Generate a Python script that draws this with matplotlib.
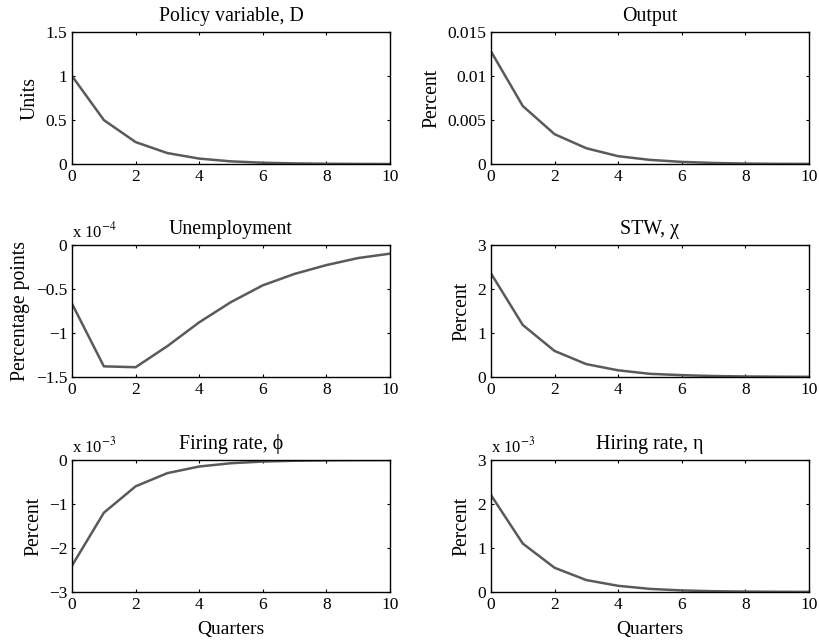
import matplotlib
matplotlib.use('Agg')
import matplotlib.pyplot as plt

plt.rcParams['font.family'] = ['Liberation Serif', 'DejaVu Serif']
plt.rcParams['mathtext.fontset'] = 'stix'
plt.rcParams['axes.unicode_minus'] = True

quarters = [0, 1, 2, 3, 4, 5, 6, 7, 8, 9, 10]

policy_d = [1.0, 0.5, 0.25, 0.125, 0.0625, 0.031, 0.0156, 0.0078, 0.0039, 0.002, 0.001]
output = [0.0128, 0.0066, 0.0034, 0.0018, 0.0009, 0.00048, 0.00025, 0.00013, 0.00006, 0.00003, 0.00002]
unemployment = [-0.67, -1.38, -1.39, -1.15, -0.88, -0.65, -0.46, -0.33, -0.23, -0.15, -0.10]  # x 1e-4
stw = [2.35, 1.18, 0.59, 0.29, 0.15, 0.07, 0.04, 0.02, 0.01, 0.005, 0.002]
firing = [-2.4, -1.2, -0.6, -0.3, -0.15, -0.075, -0.037, -0.019, -0.009, -0.005, -0.002]  # x 1e-3
hiring = [2.2, 1.1, 0.55, 0.27, 0.14, 0.07, 0.035, 0.017, 0.009, 0.004, 0.002]  # x 1e-3

panels = [
    ('Policy variable, D', 'Units', policy_d, (0, 1.5), [0, 0.5, 1, 1.5], ['0', '0.5', '1', '1.5'], None),
    ('Output', 'Percent', output, (0, 0.015), [0, 0.005, 0.01, 0.015], ['0', '0.005', '0.01', '0.015'], None),
    ('Unemployment', 'Percentage points', unemployment, (-1.5, 0), [-1.5, -1, -0.5, 0],
     ['\u22121.5', '\u22121', '\u22120.5', '0'], '-4'),
    ('STW, \u03c7', 'Percent', stw, (0, 3), [0, 1, 2, 3], ['0', '1', '2', '3'], None),
    ('Firing rate, \u03d5', 'Percent', firing, (-3, 0), [-3, -2, -1, 0], ['\u22123', '\u22122', '\u22121', '0'], '-3'),
    ('Hiring rate, \u03b7', 'Percent', hiring, (0, 3), [0, 1, 2, 3], ['0', '1', '2', '3'], '-3'),
]

fig = plt.figure(figsize=(8.19, 6.41), dpi=100)
lefts = [0.088, 0.5995]
bottoms = [0.744, 0.412, 0.0765]
w, h = 0.388, 0.206

for i, (title, ylab, vals, ylim, yt, ytl, expo) in enumerate(panels):
    r, c = divmod(i, 2)
    ax = fig.add_axes([lefts[c], bottoms[r], w, h])
    ax.plot(quarters, vals, color='#5a5a5a', lw=1.8)
    ax.set_xlim(0, 10)
    ax.set_ylim(*ylim)
    ax.set_xticks([0, 2, 4, 6, 8, 10])
    ax.set_yticks(yt)
    ax.set_yticklabels(ytl)
    ax.tick_params(direction='in', top=True, right=True, length=2.5, width=0.8,
                   labelsize=12.5, pad=3.5)
    for s in ax.spines.values():
        s.set_linewidth(1.0)
    ax.set_title(title, fontsize=14.3, pad=8)
    ax.set_ylabel(ylab, fontsize=14.2, labelpad=4)
    if r == 2:
        ax.set_xlabel('Quarters', fontsize=14, labelpad=6)
    if expo:
        ax.text(0, 1.03, 'x 10$^{%s}$' % expo, transform=ax.transAxes,
                ha='left', va='bottom', fontsize=12)

fig.savefig('out.png', dpi=100)
